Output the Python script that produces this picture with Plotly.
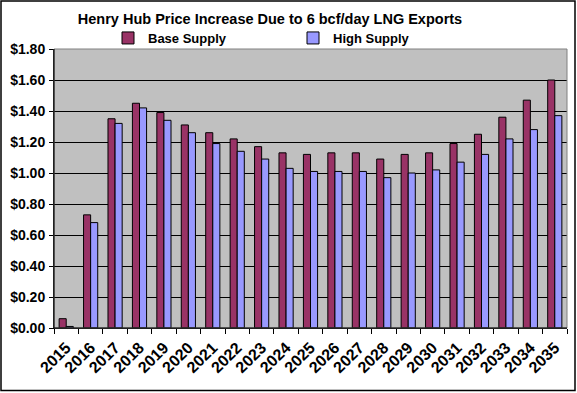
import plotly.graph_objects as go

years = [str(y) for y in range(2015, 2036)]
base_supply = [0.06, 0.73, 1.35, 1.45, 1.39, 1.31, 1.26, 1.22, 1.17, 1.13, 1.12,
               1.13, 1.13, 1.09, 1.12, 1.13, 1.19, 1.25, 1.36, 1.47, 1.60]
high_supply = [0.01, 0.68, 1.32, 1.42, 1.34, 1.26, 1.19, 1.14, 1.09, 1.03, 1.01,
               1.01, 1.01, 0.97, 1.00, 1.02, 1.07, 1.12, 1.22, 1.28, 1.37]
y_ticks = [0, 0.2, 0.4, 0.6, 0.8, 1.0, 1.2, 1.4, 1.6, 1.8]

FONT = "Arial, 'Liberation Sans', sans-serif"

fig = go.Figure()
fig.add_trace(go.Bar(x=years, y=base_supply, name="<b>Base Supply</b>",
                     marker=dict(color="#993366", line=dict(color="black", width=1))))
fig.add_trace(go.Bar(x=years, y=high_supply, name="<b>High Supply</b>",
                     marker=dict(color="#9999FF", line=dict(color="black", width=1))))

W, H = 577, 393
L, R, T, B = 54, 10, 49, 65
pw, ph = W - L - R, H - T - B

fig.update_layout(
    width=W, height=H,
    margin=dict(l=L, r=R, t=T, b=B),
    paper_bgcolor="white",
    plot_bgcolor="#C0C0C0",
    barmode="group",
    bargap=0.42,
    bargroupgap=0,
    font=dict(family=FONT, color="black", size=13),
    title=dict(text="<b>Henry Hub Price Increase Due to 6 bcf/day LNG Exports</b>",
               x=270 / W, xanchor="center", y=1 - 19 / H, yanchor="middle",
               font=dict(size=14.5, family=FONT)),
    legend=dict(orientation="h", x=(108 - L) / pw, xanchor="left",
                y=1 + (49 - 38) / ph, yanchor="middle",
                font=dict(size=13, family=FONT),
                entrywidth=140, entrywidthmode="pixels",
                itemwidth=30, bgcolor="rgba(0,0,0,0)", traceorder="normal"),
    showlegend=True,
    xaxis=dict(type="category", tickangle=-45, ticks="outside", tickson="boundaries",
               ticklen=5, tickcolor="black", showline=True, linecolor="black",
               showgrid=False, ticklabelstandoff=3,
               tickvals=years, ticktext=[f"<b>{y}</b>" for y in years],
               tickfont=dict(size=16, family=FONT)),
    yaxis=dict(range=[0, 1.8], tickvals=y_ticks,
               ticktext=[f"<b>${v:.2f}</b>" for v in y_ticks],
               ticks="outside", ticklen=4, tickcolor="black",
               showgrid=True, gridcolor="black", gridwidth=1,
               showline=True, linecolor="black",
               zeroline=False, ticklabelstandoff=1,
               tickfont=dict(size=14, family=FONT)),
    shapes=[
        dict(type="rect", xref="paper", yref="paper", x0=0, x1=1, y0=0, y1=1,
             line=dict(color="#808080", width=1), layer="above"),
        dict(type="line", xref="paper", yref="paper", x0=0, x1=0, y0=0, y1=1,
             line=dict(color="black", width=1), layer="above"),
        dict(type="line", xref="paper", yref="paper", x0=0, x1=1, y0=0, y1=0,
             line=dict(color="black", width=1), layer="above"),
        dict(type="rect", xref="paper", yref="paper",
             x0=(-L + 1) / pw, x1=1 + (R - 2) / pw,
             y0=(-B + 2.5) / ph, y1=1 + (T - 1) / ph,
             line=dict(color="black", width=1.5), layer="above"),
    ],
)

fig.write_html("out.html", config={"displayModeBar": False},
               post_script="document.body.style.margin='0';")
